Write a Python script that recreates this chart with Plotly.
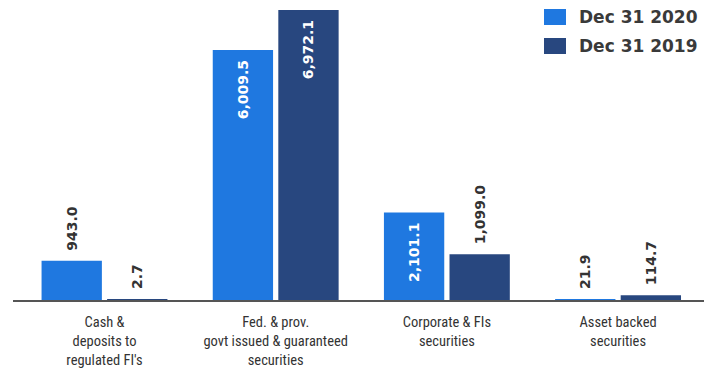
import plotly.graph_objects as go

categories = ["Cash &<br>deposits to<br>regulated FI's",
              "Fed. & prov.<br>govt issued & guaranteed<br>securities",
              "Corporate & FIs<br>securities",
              "Asset backed<br>securities"]
series_names = ["Dec 31 2020", "Dec 31 2019"]
values_2020 = [943.0, 6009.5, 2101.1, 21.9]
values_2019 = [2.7, 6972.1, 1099.0, 114.7]
pos_2020 = ["outside", "inside", "inside", "outside"]
pos_2019 = ["outside", "inside", "outside", "outside"]

colors = ["#1f78e0", "#28477f"]
PAD = "\u2002"

def fmt(v):
    return PAD + f"{v:,.1f}" + PAD

W, H = 704, 369
ML, MR, MT, MB = 13, 0, 0, 69
PW, PH = W - ML - MR, H - MT - MB

def px(x):
    return (x - ML) / PW

def py(y):
    return (PH - (y - MT)) / PH

fig = go.Figure()
for name, vals, pos, col in [(series_names[0], values_2020, pos_2020, colors[0]),
                              (series_names[1], values_2019, pos_2019, colors[1])]:
    fig.add_trace(go.Bar(
        name=name, x=categories, y=vals, marker_color=col, marker_line_width=0,
        text=[fmt(v) for v in vals], textposition=pos, textangle=-90,
        insidetextanchor="end", constraintext="none", cliponaxis=False,
        insidetextfont=dict(color="white", size=14, family="DejaVu Sans", weight="bold"),
        outsidetextfont=dict(color="#333333", size=14, family="DejaVu Sans", weight="bold"),
    ))

# legend drawn as swatches + text
legend_rows = [(9, 25, 17), (38, 54, 46)]
for (y0, y1, yc), name, col in zip(legend_rows, series_names, colors):
    fig.add_shape(type="rect", xref="paper", yref="paper",
                  x0=px(544), x1=px(566), y0=py(y1), y1=py(y0),
                  fillcolor=col, line_width=0)
    fig.add_annotation(xref="paper", yref="paper", x=px(577), y=py(yc),
                       xanchor="left", yanchor="middle", showarrow=False, text=name,
                       font=dict(size=17, color="#3a3a3a", family="DejaVu Sans", weight="bold"))

fig.update_layout(
    width=W, height=H,
    margin=dict(l=ML, r=MR, t=MT, b=MB),
    plot_bgcolor="white", paper_bgcolor="white",
    barmode="group", bargap=0.234, bargroupgap=0.08,
    showlegend=False,
    xaxis=dict(range=[-0.5345, 3.502], showline=True, linecolor="#555555", linewidth=2,
               ticks="", ticklabelstandoff=8,
               tickfont=dict(size=14.5, color="#333333",
                             family="Roboto Condensed, Liberation Sans Narrow, Roboto")),
    yaxis=dict(range=[0, 7212], visible=False, showgrid=False),
)
fig.write_html("out.html")
